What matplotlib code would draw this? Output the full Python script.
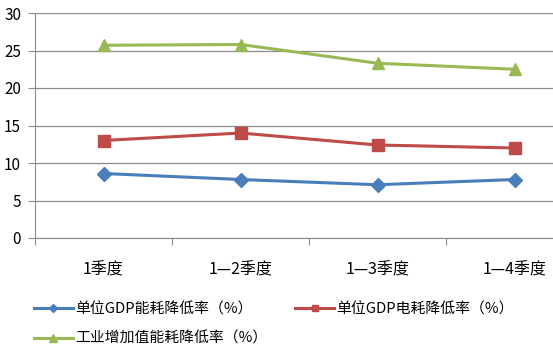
import numpy as np
import matplotlib.pyplot as plt

plt.rcParams['font.family'] = ['Noto Sans CJK SC', 'DejaVu Sans']

quarters = ['1季度', '1—2季度', '1—3季度', '1—4季度']
gdp_energy = [8.6, 7.8, 7.1, 7.8]
gdp_power = [13.0, 14.0, 12.4, 12.0]
industry_energy = [25.7, 25.8, 23.3, 22.5]
names = ['单位GDP能耗降低率（%）', '单位GDP电耗降低率（%）', '工业增加值能耗降低率（%）']

fig = plt.figure(figsize=(5.53, 3.61), dpi=100)
ax = fig.add_axes([35 / 553, 1 - 238 / 361, 548 / 553, 225 / 361])

x = np.arange(len(quarters))
l1, = ax.plot(x, gdp_energy, color='#4A7EBB', lw=2.2, marker='D', ms=7)
l2, = ax.plot(x, gdp_power, color='#BE4B48', lw=2.2, marker='s', ms=8)
l3, = ax.plot(x, industry_energy, color='#98B954', lw=2.2, marker='^', ms=9)

ax.set_xlim(-0.5, 3.5)
ax.set_ylim(0, 30)
ax.set_yticks(range(0, 31, 5))
ax.grid(axis='y', color='#8c8c8c', lw=0.9)
ax.set_axisbelow(True)
ax.set_xticks(np.arange(-0.5, 4, 1))
ax.set_xticklabels([])
ax.set_xticks(x, minor=True)
ax.set_xticklabels(quarters, minor=True, fontsize=11.5)
ax.tick_params(axis='x', which='minor', length=0, pad=17)
ax.tick_params(axis='x', which='major', length=5, color='#8c8c8c')
ax.tick_params(axis='y', length=5, color='#8c8c8c', labelsize=11, pad=5)
for s in ['top', 'right']:
    ax.spines[s].set_visible(False)
ax.spines['left'].set_color('#8c8c8c')
ax.spines['bottom'].set_color('#8c8c8c')

fig.legend([l1, l3, l2], [names[0], names[2], names[1]], ncol=2,
           loc='upper left', bbox_to_anchor=(34 / 553, 1 - 302 / 361),
           frameon=False, fontsize=10.7, handlelength=2.6, handletextpad=0.15,
           columnspacing=1.9, labelspacing=1.05, borderaxespad=0, borderpad=0,
           markerscale=0.6)

fig.savefig('out.png', dpi=100, facecolor='white')
